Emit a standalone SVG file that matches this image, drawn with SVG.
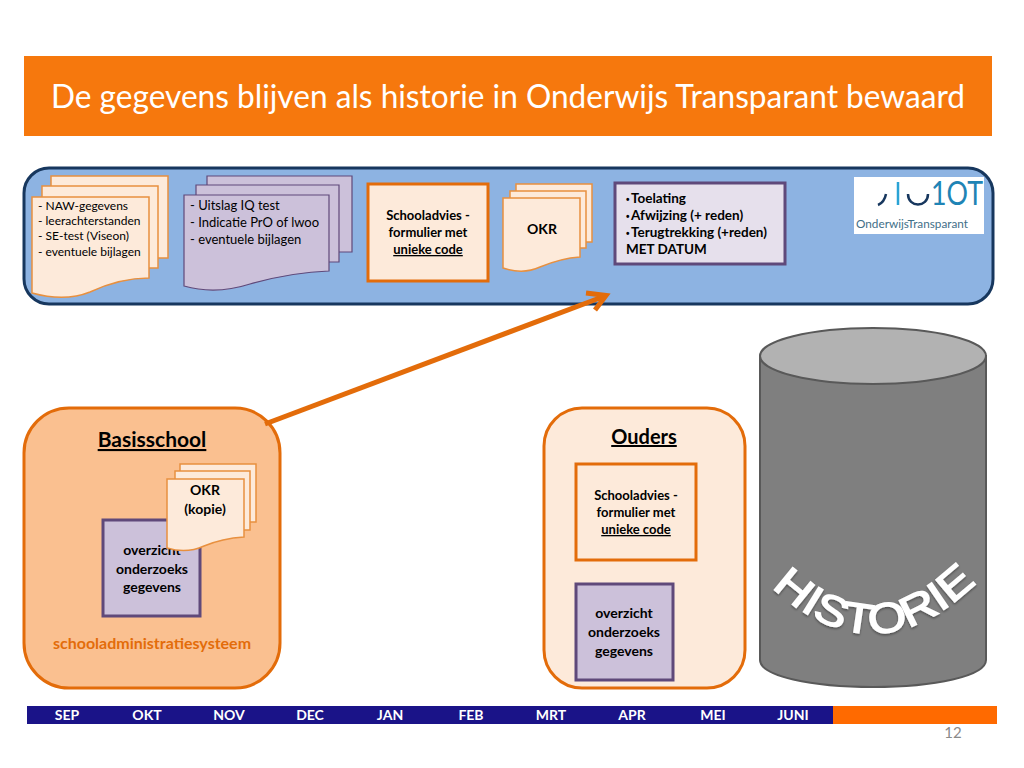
<svg xmlns="http://www.w3.org/2000/svg" width="1024" height="768" viewBox="0 0 1024 768">
<style>
text{font-family:Lato,"Open Sans","Liberation Sans",sans-serif;fill:#000}
.b{font-weight:700}
.m{text-anchor:middle}
.pe{fill:#FDEADA;stroke:#E8903F;stroke-width:1.5}
.pu{fill:#CCC1DA;stroke:#5F497A;stroke-width:1.2}
.box-o{fill:#FDEADA;stroke:#E36C0A;stroke-width:3}
.box-p{fill:#CCC1DA;stroke:#5F497A;stroke-width:3}
.t12{font-size:12px}
.t13{font-size:13px}
.t135{font-size:13.5px}
.t14{font-size:14px}
.bu{font-family:"Liberation Sans",sans-serif;font-size:10px}
.mon{font-size:14px;font-weight:700;fill:#fff;text-anchor:middle}
</style>
<defs>
<filter id="sh" x="-10%" y="-10%" width="120%" height="130%"><feDropShadow dx="0" dy="1.5" stdDeviation="1.2" flood-color="#000" flood-opacity=".4"/></filter>
<path id="arc" d="M772 587 Q871 680 972 587"/>
</defs>
<g id="title">
<rect x="24" y="56" width="968" height="80" fill="#F6780D"/>
<text x="508" y="108" class="m" font-size="32" textLength="914" lengthAdjust="spacingAndGlyphs" style="fill:#fff">De gegevens blijven als historie in Onderwijs Transparant bewaard</text>
</g>
<g id="band"><rect x="24" y="168" width="969" height="136" rx="25" fill="#8DB3E2" stroke="#17375E" stroke-width="3"/></g>
<g id="doc-naw">
<path class="pe" d="M51 176H168V258H51Z"/>
<path class="pe" d="M42 186H158V268H42Z"/>
<path class="pe" d="M32 197H149V278C125 278 105 285 90 292C70 300 50 298 32 293Z"/>
<text class="t12" x="38" y="210">- NAW-gegevens</text>
<text class="t12" x="38" y="225">- leerachterstanden</text>
<text class="t12" x="38" y="240">- SE-test (Viseon)</text>
<text class="t12" x="38" y="256">- eventuele bijlagen</text>
</g>
<g id="doc-iq">
<path class="pu" d="M207 176H352V252H207Z"/>
<path class="pu" d="M196 185H339V262H196Z"/>
<path class="pu" d="M184 195H329V271C300 272 275 277 250 284C225 292 205 292 184 286Z"/>
<text class="t13" x="190" y="210">- Uitslag IQ test</text>
<text class="t13" x="190" y="227">- Indicatie PrO of lwoo</text>
<text class="t13" x="190" y="244">- eventuele bijlagen</text>
</g>
<g id="schooladvies-top">
<rect class="box-o" x="368" y="184" width="120" height="97"/>
<text class="t13 b m" x="428" y="220">Schooladvies -</text>
<text class="t13 b m" x="428" y="237">formulier met</text>
<text class="t13 b m" x="428" y="254" text-decoration="underline">unieke code</text>
</g>
<g id="doc-okr">
<path class="pe" d="M516 184H592V242H516Z"/>
<path class="pe" d="M510 191H586V248H510Z"/>
<path class="pe" d="M503 198H580V257C565 258 552 262 540 267C527 273 515 272 503 268Z"/>
<text class="b m t14" x="542" y="234">OKR</text>
</g>
<g id="besluit">
<rect x="615" y="183" width="170" height="81" fill="#E6E0EC" stroke="#5F497A" stroke-width="3"/>
<text class="t135 b" x="626" y="203"><tspan class="bu">•</tspan><tspan x="631">Toelating</tspan></text>
<text class="t135 b" x="626" y="220"><tspan class="bu">•</tspan><tspan x="631">Afwijzing (+ reden)</tspan></text>
<text class="t135 b" x="626" y="237"><tspan class="bu">•</tspan><tspan x="631">Terugtrekking (+reden)</tspan></text>
<text class="t135 b" x="626" y="254">MET DATUM</text>
</g>
<g id="logo">
<rect x="854" y="177" width="130" height="57" fill="#fff"/>
<path d="M878 205C883 203 885 199 886 194M908 194C908 208 928 208 928 194" fill="none" stroke="#17375E" stroke-width="2.5"/>
<path d="M898 182V205" fill="none" stroke="#2AA3D5" stroke-width="2.5"/>
<text x="931" y="205" font-size="32" textLength="52" lengthAdjust="spacingAndGlyphs" style="fill:#1F84B5">1OT</text>
<text x="856" y="228" font-size="12" textLength="112" lengthAdjust="spacingAndGlyphs" style="fill:#3F6F88">OnderwijsTransparant</text>
</g>
<g id="basisschool">
<rect x="24" y="408" width="256" height="280" rx="45" fill="#FAC090" stroke="#E36C0A" stroke-width="3"/>
<text class="b m" font-size="21" x="152" y="447" text-decoration="underline">Basisschool</text>
<rect class="box-p" x="103" y="520" width="97" height="96"/>
<text class="b m t14" x="152" y="555">overzicht</text>
<text class="b m t14" x="152" y="574">onderzoeks</text>
<text class="b m t14" x="152" y="592">gegevens</text>
<path class="pe" d="M180 464H256V522H180Z"/>
<path class="pe" d="M175 471H250V530H175Z"/>
<path class="pe" d="M167 479H244V537C229 538 216 541 204 546C191 552 180 552 167 548Z"/>
<text class="b m t14" x="205" y="495">OKR</text>
<text class="b m t14" x="205" y="514">(kopie)</text>
<text class="b m" font-size="16" style="fill:#E36C0A" x="152" y="649">schooladministratiesysteem</text>
</g>
<g id="ouders">
<rect x="544" y="408" width="201" height="280" rx="38" fill="#FDEADA" stroke="#E36C0A" stroke-width="3"/>
<text class="b m" font-size="20" x="644" y="444" text-decoration="underline">Ouders</text>
<rect class="box-o" x="576" y="464" width="120" height="96"/>
<text class="t13 b m" x="636" y="500">Schooladvies -</text>
<text class="t13 b m" x="636" y="517">formulier met</text>
<text class="t13 b m" x="636" y="534" text-decoration="underline">unieke code</text>
<rect class="box-p" x="576" y="584" width="97" height="96"/>
<text class="b m t14" x="624" y="618">overzicht</text>
<text class="b m t14" x="624" y="637">onderzoeks</text>
<text class="b m t14" x="624" y="656">gegevens</text>
</g>
<g id="historie">
<path d="M760 356V660C760 676 811 687 873 687S986 676 986 660V356Z" fill="#7F7F7F" stroke="#595959" stroke-width="2"/>
<ellipse cx="873" cy="356" rx="113" ry="28" fill="#B2B2B2" stroke="#595959" stroke-width="2"/>
<text font-size="42" filter="url(#sh)" stroke="#fff" stroke-width="1.6" style="font-family:'Liberation Sans',Arial,sans-serif;fill:#fff"><textPath href="#arc" textLength="232" lengthAdjust="spacingAndGlyphs">HISTORIE</textPath></text>
</g>
<g id="connectors" fill="none" stroke="#E36C0A" stroke-width="5">
<path d="M265 424L605 296"/>
<path d="M586 293L606 295.500L595 310"/>
</g>
<g id="timeline">
<rect x="27" y="706" width="806" height="18" fill="#1A1388"/>
<rect x="833" y="706" width="164" height="18" fill="#FF6A00"/>
<text class="mon" x="67" y="720">SEP</text>
<text class="mon" x="147" y="720">OKT</text>
<text class="mon" x="229" y="720">NOV</text>
<text class="mon" x="310" y="720">DEC</text>
<text class="mon" x="390" y="720">JAN</text>
<text class="mon" x="471" y="720">FEB</text>
<text class="mon" x="551" y="720">MRT</text>
<text class="mon" x="632" y="720">APR</text>
<text class="mon" x="713" y="720">MEI</text>
<text class="mon" x="793" y="720">JUNI</text>
</g>
<text x="953" y="738" class="m" font-size="15" style="fill:#8a8a8a">12</text>
</svg>
